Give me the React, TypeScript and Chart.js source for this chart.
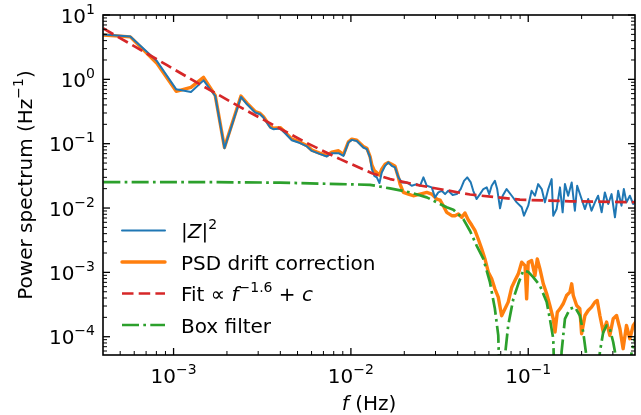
import { useEffect, useRef } from 'react';
import { Chart, registerables } from 'chart.js';

Chart.register(...registerables);

const FONT = '"DejaVu Sans", "Liberation Sans", sans-serif';
const BASE = `20px ${FONT}`;
const SUP = `14px ${FONT}`;
const ITAL = `italic 20px ${FONT}`;
const SUP_RAISE = 9;

const X_MIN = 4e-4;
const X_MAX = 0.4;
const Y_MIN = 5.2e-5;
const Y_MAX = 10;

const xMajorTicks = [1e-3, 1e-2, 1e-1];
const xTickExponents = ['−3', '−2', '−1'];
const yMajorTicks = [1e-4, 1e-3, 1e-2, 1e-1, 1, 10];
const yTickExponents = ['−4', '−3', '−2', '−1', '0', '1'];

// |Z|^2 : log10(frequency / Hz) and log10(power / Hz^-1)
const zLogF = [-3.396,-3.244,-3.094,-2.985,-2.902,-2.831,-2.765,-2.713,-2.620,-2.586,
  -2.540,-2.512,-2.493,-2.455,-2.437,-2.399,-2.371,-2.333,-2.296,-2.248,
  -2.220,-2.173,-2.136,-2.108,-2.070,-2.042,-2.014,-1.995,-1.967,-1.930,
  -1.910,-1.892,-1.882,-1.868,-1.854,-1.839,-1.826,-1.807,-1.789,-1.770,
  -1.751,-1.732,-1.713,-1.685,-1.657,-1.629,-1.610,-1.591,-1.572,-1.544,
  -1.526,-1.507,-1.488,-1.469,-1.451,-1.426,-1.403,-1.381,-1.362,-1.344,
  -1.324,-1.310,-1.291,-1.272,-1.253,-1.234,-1.220,-1.206,-1.188,-1.175,
  -1.159,-1.144,-1.122,-1.093,-1.065,-1.037,-1.024,-1.000,-0.981,-0.962,
  -0.944,-0.924,-0.906,-0.887,-0.868,-0.859,-0.840,-0.821,-0.806,-0.793,
  -0.775,-0.755,-0.737,-0.724,-0.699,-0.680,-0.662,-0.643,-0.624,-0.606,
  -0.586,-0.568,-0.549,-0.530,-0.511,-0.493,-0.474,-0.461,-0.446,-0.427,
  -0.408,-0.393];
const zLogP = [0.698,0.667,0.284,-0.155,-0.197,-0.016,-0.259,-1.070,-0.274,-0.388,
  -0.516,-0.543,-0.594,-0.749,-0.775,-0.764,-0.837,-0.946,-0.981,-1.043,
  -1.112,-1.163,-1.198,-1.147,-1.147,-1.189,-0.981,-0.941,-0.957,-1.059,
  -1.085,-1.214,-1.395,-1.499,-1.524,-1.612,-1.447,-1.344,-1.291,-1.344,
  -1.369,-1.524,-1.602,-1.602,-1.654,-1.628,-1.654,-1.524,-1.654,-1.679,
  -1.834,-1.757,-1.732,-1.783,-1.732,-1.798,-1.783,-1.705,-1.577,-1.524,
  -1.602,-1.732,-1.860,-1.783,-1.705,-1.679,-1.783,-1.654,-1.577,-1.705,
  -2.005,-1.809,-1.705,-1.809,-1.912,-1.989,-2.119,-1.964,-1.732,-1.809,
  -1.628,-1.705,-1.912,-1.705,-1.550,-2.119,-2.016,-1.679,-2.067,-1.628,
  -1.809,-1.602,-2.042,-1.654,-1.860,-2.016,-1.860,-2.042,-1.912,-1.809,
  -2.067,-1.757,-1.938,-1.783,-2.144,-1.732,-1.964,-1.705,-1.912,-1.809,
  -1.938,-1.860];

// PSD drift correction
const psdLogF = [-3.396,-3.244,-3.094,-2.985,-2.902,-2.831,-2.765,-2.713,-2.620,-2.586,
  -2.540,-2.512,-2.493,-2.455,-2.437,-2.399,-2.371,-2.333,-2.296,-2.248,
  -2.220,-2.173,-2.136,-2.108,-2.070,-2.042,-2.014,-1.995,-1.967,-1.930,
  -1.910,-1.892,-1.882,-1.868,-1.854,-1.839,-1.826,-1.807,-1.789,-1.770,
  -1.751,-1.732,-1.723,-1.704,-1.676,-1.648,-1.610,-1.572,-1.544,-1.516,
  -1.497,-1.479,-1.460,-1.431,-1.413,-1.394,-1.375,-1.357,-1.338,-1.319,
  -1.300,-1.282,-1.262,-1.244,-1.225,-1.206,-1.188,-1.169,-1.150,-1.131,
  -1.113,-1.093,-1.075,-1.056,-1.037,-1.018,-1.009,-1.000,-0.981,-0.962,
  -0.949,-0.934,-0.915,-0.896,-0.878,-0.859,-0.849,-0.836,-0.821,-0.803,
  -0.784,-0.765,-0.755,-0.746,-0.727,-0.709,-0.699,-0.680,-0.662,-0.643,
  -0.624,-0.611,-0.596,-0.577,-0.558,-0.540,-0.521,-0.502,-0.483,-0.465,
  -0.446,-0.427,-0.408,-0.393];
const psdLogP = [0.690,0.660,0.250,-0.186,-0.124,0.031,-0.250,-1.060,-0.260,-0.370,
  -0.500,-0.530,-0.580,-0.735,-0.760,-0.750,-0.820,-0.930,-0.965,-1.030,
  -1.100,-1.150,-1.185,-1.130,-1.110,-1.170,-0.970,-0.930,-0.945,-1.045,
  -1.070,-1.200,-1.330,-1.420,-1.450,-1.488,-1.395,-1.318,-1.291,-1.318,
  -1.349,-1.524,-1.628,-1.757,-1.783,-1.809,-1.783,-1.757,-1.783,-1.860,
  -1.876,-1.964,-2.067,-2.119,-2.119,-2.093,-2.144,-2.077,-2.186,-2.264,
  -2.352,-2.481,-2.636,-2.791,-2.997,-3.101,-3.256,-3.385,-3.674,-3.566,
  -3.462,-3.230,-3.127,-3.023,-2.842,-2.895,-3.411,-2.842,-2.817,-3.050,
  -2.791,-2.946,-3.178,-3.333,-3.515,-3.721,-3.927,-3.617,-3.566,-3.488,
  -3.360,-3.307,-3.178,-3.360,-3.515,-3.566,-3.953,-3.670,-3.592,-3.540,
  -3.462,-3.437,-3.670,-3.927,-3.772,-3.980,-3.721,-3.670,-3.876,-4.186,
  -3.825,-4.031,-3.825,-3.767];

// Fit ∝ f^-1.6 + c
const fitLogF = [-3.396,-3.225,-3.037,-2.850,-2.606,-2.437,-2.248,-2.061,-1.881,-1.779,-1.610,-1.328,-1.047,-0.765,-0.393];
const fitLogP = [0.790,0.520,0.220,-0.080,-0.460,-0.710,-0.990,-1.240,-1.460,-1.550,-1.650,-1.790,-1.870,-1.895,-1.910];

// Box filter (nulls drop far below the axis)
const boxLogF = [-3.396,-2.850,-2.399,-2.062,-1.892,-1.780,-1.666,-1.572,-1.516,-1.460,
  -1.422,-1.366,-1.328,-1.291,-1.253,-1.216,-1.188,-1.169,-1.148,-1.131,
  -1.113,-1.084,-1.056,-1.028,-1.000,-0.972,-0.934,-0.896,-0.878,-0.859,
  -0.838,-0.812,-0.793,-0.765,-0.737,-0.709,-0.690,-0.675,-0.643,-0.596,
  -0.577,-0.558,-0.540,-0.521,-0.511,-0.472,-0.417,-0.393];
const boxLogP = [-1.597,-1.597,-1.605,-1.628,-1.639,-1.695,-1.757,-1.834,-1.912,-1.989,
  -2.026,-2.171,-2.357,-2.584,-2.791,-3.152,-3.566,-3.980,-6,-4.290,
  -3.825,-3.411,-3.178,-2.972,-2.992,-3.074,-3.205,-3.462,-3.721,-4.031,
  -6,-4.237,-3.721,-3.566,-3.540,-3.670,-3.927,-4.237,-6,-4.237,
  -3.927,-3.825,-3.876,-4.082,-4.233,-6,-4.237,-3.980];

const BLUE = '#1f77b4';
const ORANGE = '#ff7f0e';
const RED = '#d62728';
const GREEN = '#2ca02c';
const RED_DASH = [11.5, 5.2];
const GREEN_DASH = [17, 4.3, 2.7, 4.3];

type Seg = { t: string; font: string; dy?: number };

const legendEntries: { segs: Seg[]; color: string; width: number; dash: number[] }[] = [
  { segs: [{ t: '|', font: BASE }, { t: 'Z', font: ITAL }, { t: '|', font: BASE }, { t: '2', font: SUP, dy: -SUP_RAISE }], color: BLUE, width: 2, dash: [] },
  { segs: [{ t: 'PSD drift correction', font: BASE }], color: ORANGE, width: 3.4, dash: [] },
  { segs: [{ t: 'Fit ∝ ', font: BASE }, { t: 'f', font: ITAL }, { t: '−1.6', font: SUP, dy: -SUP_RAISE }, { t: ' + ', font: BASE }, { t: 'c', font: ITAL }], color: RED, width: 2.7, dash: RED_DASH },
  { segs: [{ t: 'Box filter', font: BASE }], color: GREEN, width: 2.7, dash: GREEN_DASH },
];

const toPoints = (lf: number[], lp: number[]) => lf.map((f, i) => ({ x: Math.pow(10, f), y: Math.pow(10, lp[i]) }));

function richWidth(ctx: CanvasRenderingContext2D, segs: Seg[]) {
  let w = 0;
  for (const s of segs) { ctx.font = s.font; w += ctx.measureText(s.t).width; }
  return w;
}
function drawRich(ctx: CanvasRenderingContext2D, segs: Seg[], x: number, y: number, align: 'left' | 'center' | 'right') {
  const w = richWidth(ctx, segs);
  let cx = align === 'left' ? x : align === 'center' ? x - w / 2 : x - w;
  ctx.textAlign = 'left';
  ctx.textBaseline = 'alphabetic';
  for (const s of segs) {
    ctx.font = s.font;
    ctx.fillText(s.t, cx, y + (s.dy || 0));
    cx += ctx.measureText(s.t).width;
  }
}

const framePlugin = {
  id: 'mplFrame',
  beforeDraw(chart: any) {
    const { ctx, width, height } = chart;
    ctx.save();
    ctx.fillStyle = '#ffffff';
    ctx.fillRect(0, 0, width, height);
    ctx.restore();
  },
  afterDraw(chart: any) {
    const { ctx, chartArea: a, scales } = chart;
    const xs = scales.x;
    const ys = scales.y;
    ctx.save();
    ctx.strokeStyle = '#000';
    ctx.fillStyle = '#000';
    const line = (x1: number, y1: number, x2: number, y2: number, w: number) => {
      ctx.lineWidth = w;
      ctx.beginPath();
      ctx.moveTo(x1, y1);
      ctx.lineTo(x2, y2);
      ctx.stroke();
    };
    const MAJ = 7, MIN = 4;
    // minor ticks
    for (let e = -5; e <= 1; e++) {
      for (let m = 2; m <= 9; m++) {
        const v = m * Math.pow(10, e);
        if (v > X_MIN && v < X_MAX) {
          const px = xs.getPixelForValue(v);
          line(px, a.bottom, px, a.bottom - MIN, 1);
          line(px, a.top, px, a.top + MIN, 1);
        }
        if (v > Y_MIN && v < Y_MAX) {
          const py = ys.getPixelForValue(v);
          line(a.left, py, a.left + MIN, py, 1);
          line(a.right, py, a.right - MIN, py, 1);
        }
      }
    }
    // major ticks + labels
    xMajorTicks.forEach((v, i) => {
      const px = xs.getPixelForValue(v);
      line(px, a.bottom, px, a.bottom - MAJ, 1.3);
      line(px, a.top, px, a.top + MAJ, 1.3);
      drawRich(ctx, [{ t: '10', font: BASE }, { t: xTickExponents[i], font: SUP, dy: -SUP_RAISE }], px, a.bottom + 28, 'center');
    });
    yMajorTicks.forEach((v, i) => {
      const py = ys.getPixelForValue(v);
      line(a.left, py, a.left + MAJ, py, 1.3);
      line(a.right, py, a.right - MAJ, py, 1.3);
      drawRich(ctx, [{ t: '10', font: BASE }, { t: yTickExponents[i], font: SUP, dy: -SUP_RAISE }], a.left - 8, py + 7.5, 'right');
    });
    // spines
    ctx.lineWidth = 1.6;
    ctx.strokeRect(a.left, a.top, a.right - a.left, a.bottom - a.top);
    // axis titles
    drawRich(ctx, [{ t: 'f', font: ITAL }, { t: ' (Hz)', font: BASE }], (a.left + a.right) / 2, 410, 'center');
    ctx.save();
    ctx.translate(32, (a.top + a.bottom) / 2);
    ctx.rotate(-Math.PI / 2);
    drawRich(ctx, [{ t: 'Power spectrum (Hz', font: BASE }, { t: '−1', font: SUP, dy: -SUP_RAISE }, { t: ')', font: BASE }], 0, 0, 'center');
    ctx.restore();
    // legend
    const baselines = [238, 269.5, 301, 332.5];
    legendEntries.forEach((e, i) => {
      const yb = baselines[i];
      const yl = yb - 7.5;
      ctx.save();
      ctx.strokeStyle = e.color;
      ctx.lineWidth = e.width;
      ctx.setLineDash(e.dash);
      ctx.lineCap = e.dash.length ? 'butt' : 'round';
      ctx.beginPath();
      ctx.moveTo(122, yl);
      ctx.lineTo(165, yl);
      ctx.stroke();
      ctx.restore();
      ctx.fillStyle = '#000';
      drawRich(ctx, e.segs, 181, yb, 'left');
    });
    ctx.restore();
  },
};

export default function App() {
  const ref = useRef<HTMLCanvasElement>(null);
  useEffect(() => {
    if (!ref.current) return;
    const common = { pointRadius: 0, fill: false, tension: 0, clip: 0, borderJoinStyle: 'round' as const };
    const chart = new Chart(ref.current, {
      type: 'line',
      data: {
        datasets: [
          { ...common, label: '|Z|^2', data: toPoints(zLogF, zLogP), borderColor: BLUE, borderWidth: 2, borderCapStyle: 'round', order: 3 },
          { ...common, label: 'PSD drift correction', data: toPoints(psdLogF, psdLogP), borderColor: ORANGE, borderWidth: 3.4, borderCapStyle: 'round', order: 4 },
          { ...common, label: 'Fit', data: toPoints(fitLogF, fitLogP), borderColor: RED, borderWidth: 2.7, borderDash: RED_DASH, order: 2 },
          { ...common, label: 'Box filter', data: toPoints(boxLogF, boxLogP), borderColor: GREEN, borderWidth: 2.7, borderDash: GREEN_DASH, order: 1 },
        ],
      },
      options: {
        responsive: false,
        animation: false,
        devicePixelRatio: 1,
        layout: { padding: { left: 103, right: 6, top: 15, bottom: 60 } },
        plugins: { legend: { display: false }, tooltip: { enabled: false } },
        scales: {
          x: { type: 'logarithmic', min: X_MIN, max: X_MAX, display: false },
          y: { type: 'logarithmic', min: Y_MIN, max: Y_MAX, display: false },
        },
      },
      plugins: [framePlugin],
    } as any);
    return () => chart.destroy();
  }, []);
  return (
    <div style={{ position: 'absolute', left: 0, top: 0, width: 641, height: 415, background: '#fff' }}>
      <canvas ref={ref} width={641} height={415} style={{ display: 'block', width: 641, height: 415 }} />
    </div>
  );
}
